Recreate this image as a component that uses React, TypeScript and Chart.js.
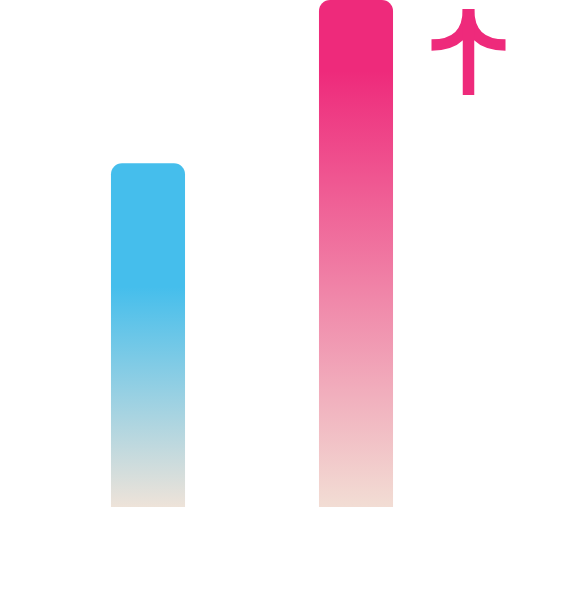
import React, { useEffect, useRef } from "react";
import { Chart, registerables } from "chart.js";

Chart.register(...registerables);

const categories = ["A", "B"];
const values = [67.8, 100];
const topColors = ["#45BEEC", "#EE2A7B"];
const bottomColors = ["#EEE3D9", "#F2DDD4"];
const solidUntil = [0.36, 0.14];
const arrowColor = "#EE2A7B";

const arrowPlugin = {
  id: "arrowMark",
  afterDatasetsDraw(chart: any) {
    const meta = chart.getDatasetMeta(0);
    const bar = meta.data[1];
    if (!bar) return;
    const ctx = chart.ctx;
    const cx = bar.x + 112.5;
    const top = 9;
    const bottom = 95;
    const half = 37;
    const armY = 45;
    ctx.save();
    ctx.strokeStyle = arrowColor;
    ctx.lineWidth = 11.5;
    ctx.lineCap = "butt";
    ctx.beginPath();
    ctx.moveTo(cx - half, armY);
    ctx.quadraticCurveTo(cx, armY, cx, top);
    ctx.stroke();
    ctx.beginPath();
    ctx.moveTo(cx + half, armY);
    ctx.quadraticCurveTo(cx, armY, cx, top);
    ctx.stroke();
    ctx.beginPath();
    ctx.moveTo(cx, top);
    ctx.lineTo(cx, bottom);
    ctx.stroke();
    ctx.restore();
  },
};

export default function App() {
  const ref = useRef<HTMLCanvasElement>(null);
  useEffect(() => {
    if (!ref.current) return;
    const chart = new Chart(ref.current, {
      type: "bar",
      data: {
        labels: categories,
        datasets: [
          {
            data: values,
            backgroundColor: (c: any) => {
              const ch = c.chart;
              const i = c.dataIndex;
              if (!ch.chartArea || i === undefined) return topColors[i ?? 0];
              const y = ch.scales.y;
              const t = y.getPixelForValue(values[i]);
              const b = y.getPixelForValue(0);
              const g = ch.ctx.createLinearGradient(0, t, 0, b);
              g.addColorStop(0, topColors[i]);
              g.addColorStop(solidUntil[i], topColors[i]);
              g.addColorStop(1, bottomColors[i]);
              return g;
            },
            borderRadius: { topLeft: 11, topRight: 11, bottomLeft: 0, bottomRight: 0 },
            borderSkipped: false,
            barPercentage: 0.356,
            categoryPercentage: 1,
          },
        ],
      },
      options: {
        animation: false,
        responsive: false,
        maintainAspectRatio: false,
        layout: { padding: { left: 44, right: 116, top: 0, bottom: 93 } },
        plugins: { legend: { display: false }, tooltip: { enabled: false } },
        scales: {
          x: { display: false },
          y: { display: false, min: 0, max: 100 },
        },
      },
      plugins: [arrowPlugin],
    });
    return () => chart.destroy();
  }, []);
  return (
    <div style={{ position: "absolute", left: 0, top: 0, width: 576, height: 600, background: "#fff" }}>
      <canvas ref={ref} width={576} height={600} style={{ width: 576, height: 600 }} />
    </div>
  );
}
